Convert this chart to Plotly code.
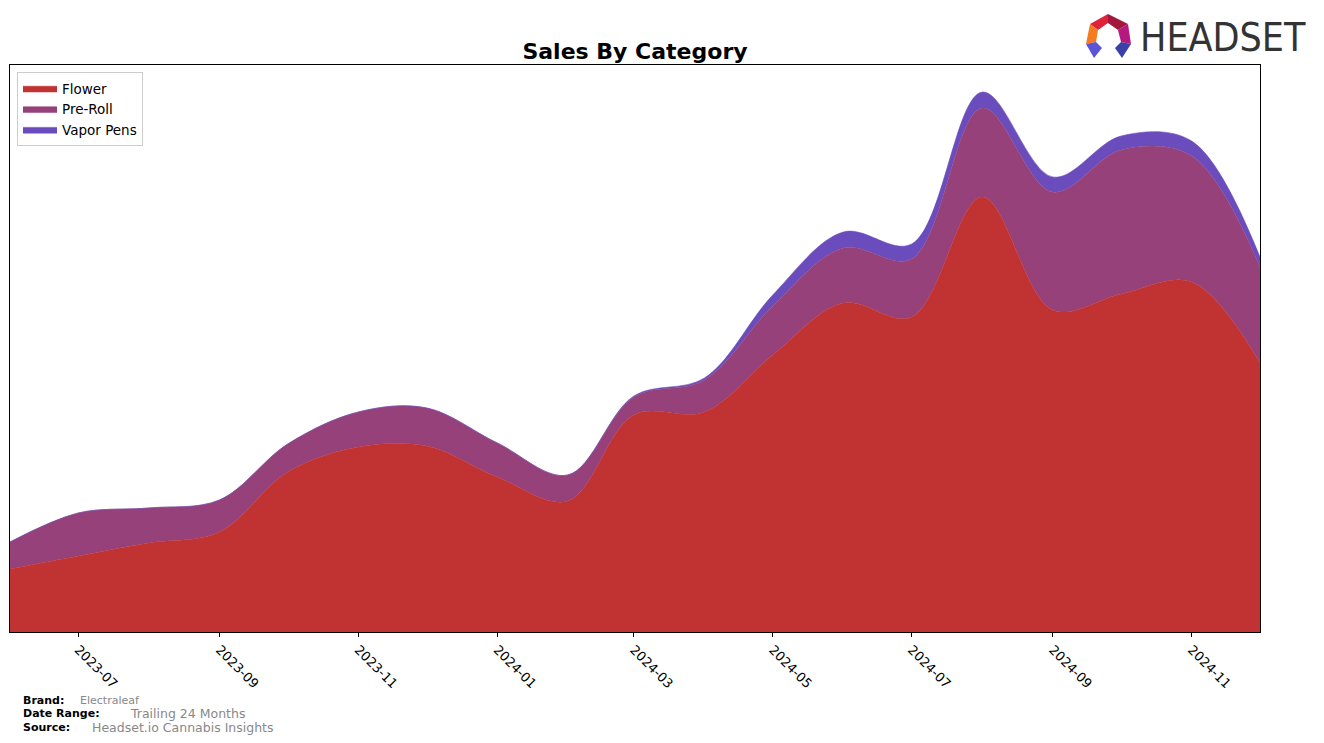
import plotly.graph_objects as go

# ---- data ----
months = ["2023-06-01", "2023-07-01", "2023-08-01", "2023-09-01", "2023-10-01",
          "2023-11-01", "2023-12-01", "2024-01-01", "2024-02-01", "2024-03-01",
          "2024-04-01", "2024-05-01", "2024-06-01", "2024-07-01", "2024-08-01",
          "2024-09-01", "2024-10-01", "2024-11-01", "2024-12-01"]
flower = [63, 76, 89, 100, 160, 185, 186, 155, 131, 217, 220, 277, 329, 315, 435, 322, 338, 350, 269]
pre_roll = [27, 43, 35, 32, 28, 35, 38, 34, 26, 18, 32, 49, 55, 58, 89, 118, 144, 126, 96]
vapor_pens = [0, 0, 0, 0, 0, 0, 0, 0, 0, 1, 2, 11, 16, 15, 16, 15, 14, 15, 10]

series_names = ["Flower", "Pre-Roll", "Vapor Pens"]
series_values = [flower, pre_roll, vapor_pens]
series_colors = ["#C13333", "#96417A", "#6B4CBD"]
tick_dates = ["2023-07-01", "2023-09-01", "2023-11-01", "2024-01-01", "2024-03-01",
              "2024-05-01", "2024-07-01", "2024-09-01", "2024-11-01"]
tick_labels = ["2023-07", "2023-09", "2023-11", "2024-01", "2024-03",
               "2024-05", "2024-07", "2024-09", "2024-11"]

W, H = 1324, 743
L, R, T, B = 10, 1260, 65, 632  # plot area in pixels


def px2x(px):
    return (px - L) / (R - L)


def px2y(py):
    return (B - py) / (B - T)


fig = go.Figure()
for name, vals, col in zip(series_names, series_values, series_colors):
    fig.add_trace(go.Scatter(
        x=months, y=vals, name=name, stackgroup="one",
        mode="lines", line=dict(shape="spline", smoothing=1.0, width=0.6, color=col),
        fillcolor=col, hoverinfo="x+y+name"))

fig.update_layout(
    width=W, height=H,
    margin=dict(l=L, r=W - R, t=T, b=H - B),
    paper_bgcolor="white", plot_bgcolor="white",
    font=dict(family="DejaVu Sans", color="black"),
    title=dict(text="<b>Sales By Category</b>", x=635 / W,
               xanchor="center", y=1 - 51 / H, yanchor="middle",
               font=dict(size=22, family="DejaVu Sans", color="black")),
    showlegend=True,
    legend=dict(x=px2x(17), y=px2y(72), xanchor="left", yanchor="top",
                traceorder="normal", bgcolor="rgba(255,255,255,0.85)",
                bordercolor="#CCCCCC", borderwidth=1,
                font=dict(size=13.5, family="DejaVu Sans"),
                itemwidth=34, tracegroupgap=1),
    xaxis=dict(type="date", range=["2023-06-01", "2024-12-01"],
               tickvals=tick_dates, ticktext=tick_labels, tickangle=45,
               ticks="outside", ticklen=4, tickcolor="black", tickwidth=1,
               showline=True, linecolor="black", linewidth=1, mirror=True,
               showgrid=False, zeroline=False,
               tickfont=dict(size=13, family="DejaVu Sans", color="black")),
    yaxis=dict(range=[0, B - T], showticklabels=False, ticks="",
               showline=True, linecolor="black", linewidth=1, mirror=True,
               showgrid=False, zeroline=False),
)

# footer annotations
foot = [
    ("<b>Brand:</b>", 21, 700, 11, "black"),
    ("Electraleaf", 78, 700, 11, "#888888"),
    ("<b>Date Range:</b>", 21, 713, 11, "black"),
    ("Trailing 24 Months", 128, 713, 12.5, "#888888"),
    ("<b>Source:</b>", 21, 727, 11, "black"),
    ("Headset.io Cannabis Insights", 90, 727, 12.5, "#888888"),
]
for txt, x, y, s, c in foot:
    fig.add_annotation(text=txt, xref="paper", yref="paper", x=px2x(x), y=px2y(y),
                       xanchor="left", yanchor="middle", showarrow=False,
                       font=dict(size=s, color=c, family="DejaVu Sans"))

# logo text
fig.add_annotation(text="HEADSET", xref="paper", yref="paper", x=px2x(1138), y=px2y(37),
                   xanchor="left", yanchor="middle", showarrow=False,
                   font=dict(size=39, color="#333333",
                             family="DejaVu Sans Condensed, Liberation Sans Narrow, Arial Narrow"))

# logo icon (decoration)
facets = [
    ([(1090, 24), (1108, 14), (1108, 23), (1098, 30)], "#E0233A"),
    ([(1108, 14), (1128, 24), (1118, 30), (1108, 23)], "#A5163E"),
    ([(1128, 24), (1131, 44), (1121, 42), (1118, 30)], "#B5197F"),
    ([(1090, 24), (1098, 30), (1096, 42), (1086, 44)], "#F47B20"),
    ([(1086, 44), (1096, 42), (1102, 48), (1094, 58)], "#5B55D6"),
    ([(1131, 44), (1121, 42), (1115, 48), (1122, 58)], "#3B3FA8"),
]
for pts, col in facets:
    path = "M " + " L ".join(f"{px2x(a):.5f},{px2y(b):.5f}" for a, b in pts) + " Z"
    fig.add_shape(type="path", path=path, xref="paper", yref="paper",
                  fillcolor=col, line=dict(width=0), layer="above")

fig.write_html("out.html")
